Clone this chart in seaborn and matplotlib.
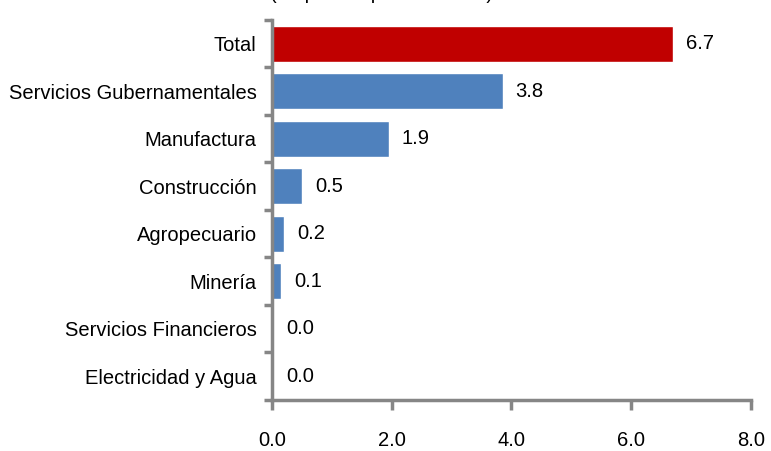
import numpy as np
import pandas as pd
import matplotlib
matplotlib.use("Agg")
import matplotlib.pyplot as plt
import seaborn as sns

# Data
sectores = ["Total", "Servicios Gubernamentales", "Manufactura", "Construcción",
            "Agropecuario", "Minería", "Servicios Financieros", "Electricidad y Agua"]
aporte = [6.7, 3.85, 1.95, 0.5, 0.2, 0.15, 0.02, 0.02]
etiquetas = ["6.7", "3.8", "1.9", "0.5", "0.2", "0.1", "0.0", "0.0"]
x_ticks = [0, 2, 4, 6, 8]

sns.set_theme(style="white")
plt.rcParams["font.family"] = ["Liberation Sans", "DejaVu Sans"]
plt.rcParams["text.color"] = "black"
plt.rcParams["xtick.labelcolor"] = "black"
plt.rcParams["ytick.labelcolor"] = "black"

df = pd.DataFrame({"Sector": sectores, "Aporte": aporte})
colores = {s: ("#C00000" if s == "Total" else "#4F81BD") for s in sectores}

fig = plt.figure(figsize=(7.71, 4.51), dpi=100)
ax = fig.add_axes([0.3528, 0.1131, 0.974 - 0.3528, 0.9557 - 0.1131])

sns.barplot(data=df, y="Sector", x="Aporte", hue="Sector", palette=colores,
            orient="h", width=0.76, legend=False, ax=ax, saturation=1)

# value labels
for i, (v, t) in enumerate(zip(aporte, etiquetas)):
    ax.text(v + 0.22, i, t, va="center", ha="left", fontsize=14.5, color="black")

ax.set_xlim(0, 8)
ax.set_ylim(len(sectores) - 0.5, -0.5)
ax.set_xticks(x_ticks)
ax.set_xticklabels([f"{t:.1f}" for t in x_ticks])
ax.set_xlabel("")
ax.set_ylabel("")

# ticks between categories on the y axis
ax.set_yticks(np.arange(len(sectores)))
ax.set_yticks(np.arange(len(sectores) + 1) - 0.5, minor=True)
ax.tick_params(axis="y", which="major", length=0, pad=11, labelsize=14.5,
               labelcolor="black")
ax.tick_params(axis="y", which="minor", left=True, length=6, width=2.5,
               color="#868686", direction="out")
ax.tick_params(axis="x", which="major", bottom=True, length=7, width=2.5,
               color="#868686", direction="out", pad=15, labelsize=14.5,
               labelcolor="black")

for side in ["top", "right"]:
    ax.spines[side].set_visible(False)
for side in ["left", "bottom"]:
    ax.spines[side].set_color("#868686")
    ax.spines[side].set_linewidth(2.5)

# title cut off at the top of the image
fig.text(0.35, 1.0 + 1 / 451, "(en puntos porcentuales)", ha="left",
         va="baseline", fontsize=14.5, color="black")

fig.savefig("out.png", dpi=100)
